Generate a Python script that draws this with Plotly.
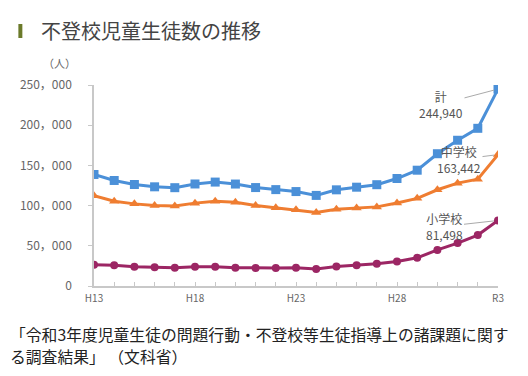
import plotly.graph_objects as go

years = ["H13", "H14", "H15", "H16", "H17", "H18", "H19", "H20", "H21", "H22", "H23",
         "H24", "H25", "H26", "H27", "H28", "H29", "H30", "R1", "R2", "R3"]
total = [138722, 131252, 126226, 123358, 122287, 126894, 129255, 126805, 122432, 119891, 117458,
         112689, 119617, 122897, 125991, 133683, 144031, 164528, 181272, 196127, 244940]
junior = [112211, 105383, 102149, 100040, 99578, 103069, 105328, 104153, 100105, 97428, 94836,
          91446, 95442, 97033, 98408, 103235, 108999, 119687, 127922, 132777, 163442]
elementary = [26511, 25869, 24077, 23318, 22709, 23825, 23927, 22652, 22327, 22463, 22622,
              21243, 24175, 25864, 27583, 30448, 35032, 44841, 53350, 63350, 81498]
shown_ticks = ["H13", "H18", "H23", "H28", "R3"]
y_ticks = [0, 50000, 100000, 150000, 200000, 250000]

FONT = "Noto Sans CJK JP"
OFF = 8  # page body margin
W, H = 528 - OFF, 376 - OFF
L, T = 92 - OFF, 85 - OFF
R = W - (498 - OFF)
B = H - (286 - OFF)
pw, ph = W - L - R, H - T - B

def px(x):
    return (x - OFF - L) / pw

def py(y):
    return (H - B - (y - OFF)) / ph

xs = list(range(len(years)))
fig = go.Figure()
fig.add_trace(go.Scatter(x=xs, y=elementary, mode="lines+markers", name="小学校",
                         line=dict(color="#9c2664", width=3),
                         marker=dict(symbol="circle", size=8, color="#9c2664")))
fig.add_trace(go.Scatter(x=xs, y=junior, mode="lines+markers", name="中学校",
                         line=dict(color="#ef7d31", width=3),
                         marker=dict(symbol="triangle-up", size=9, color="#ef7d31")))
fig.add_trace(go.Scatter(x=xs, y=total, mode="lines+markers", name="計",
                         line=dict(color="#4b90d8", width=3),
                         marker=dict(symbol="square", size=9, color="#4b90d8")))

ticktext = [y if y in shown_ticks else "" for y in years]

fig.update_layout(
    width=W, height=H,
    margin=dict(l=L, r=R, t=T, b=B),
    paper_bgcolor="white", plot_bgcolor="white",
    showlegend=False,
    font=dict(family=FONT, color="#666666", size=11),
    xaxis=dict(range=[0, len(years) - 1], tickvals=xs, ticktext=ticktext,
               showgrid=False, zeroline=False, showline=True, linecolor="#c8c8c8",
               linewidth=1.5, ticks="inside", ticklen=4, tickcolor="#c8c8c8",
               tickfont=dict(size=10, color="#666666"), ticklabelstandoff=2),
    yaxis=dict(range=[0, 250000], tickvals=y_ticks,
               ticktext=[f"{v:,}".replace(",", "，") for v in y_ticks],
               showgrid=False, zeroline=False, showline=True, linecolor="#c8c8c8",
               linewidth=1.5, ticks="outside", ticklen=4, tickcolor="#c8c8c8",
               tickfont=dict(size=12, color="#666666"), ticklabelstandoff=14),
)

# Title bar and title
fig.add_shape(type="rect", xref="paper", yref="paper",
              x0=px(16), x1=px(20), y0=py(38), y1=py(24),
              fillcolor="#6b7a2a", line=dict(width=0))
fig.add_annotation(xref="paper", yref="paper", x=px(37), y=py(31), text="不登校児童生徒数の推移",
                   showarrow=False, xanchor="left", yanchor="middle",
                   font=dict(size=20, color="#444444", family=FONT))
fig.add_annotation(xref="paper", yref="paper", x=px(57), y=py(63), text="（人）",
                   showarrow=False, xanchor="center", yanchor="middle",
                   font=dict(size=11, color="#666666", family=FONT))

# Callouts
n = len(years) - 1
fig.add_annotation(x=n, y=total[-1], text=f"計<br>{total[-1]:,}",
                   showarrow=True, arrowhead=0, arrowwidth=1, arrowcolor="#aaaaaa",
                   ax=-57, ay=15, standoff=4, align="center",
                   font=dict(size=12, color="#555555", family=FONT))
fig.add_annotation(x=n, y=junior[-1], text=f"中学校<br>{junior[-1]:,}",
                   showarrow=True, arrowhead=0, arrowwidth=1, arrowcolor="#aaaaaa",
                   ax=-39, ay=5, standoff=4, align="center",
                   font=dict(size=12, color="#555555", family=FONT))
fig.add_annotation(x=n, y=elementary[-1], text=f"小学校<br>{elementary[-1]:,}",
                   showarrow=True, arrowhead=0, arrowwidth=1, arrowcolor="#aaaaaa",
                   ax=-54, ay=6, standoff=4, align="center",
                   font=dict(size=12, color="#555555", family=FONT))

# Source text
fig.add_annotation(xref="paper", yref="paper", x=px(6), y=py(334),
                   text="「令和3年度児童生徒の問題行動・不登校等生徒指導上の諸課題に関す",
                   showarrow=False, xanchor="left", yanchor="middle",
                   font=dict(size=15.8, color="#222222", family=FONT))
fig.add_annotation(xref="paper", yref="paper", x=px(6), y=py(356),
                   text="る調査結果」 （文科省）",
                   showarrow=False, xanchor="left", yanchor="middle",
                   font=dict(size=15.8, color="#222222", family=FONT))

fig.write_html("out.html")
